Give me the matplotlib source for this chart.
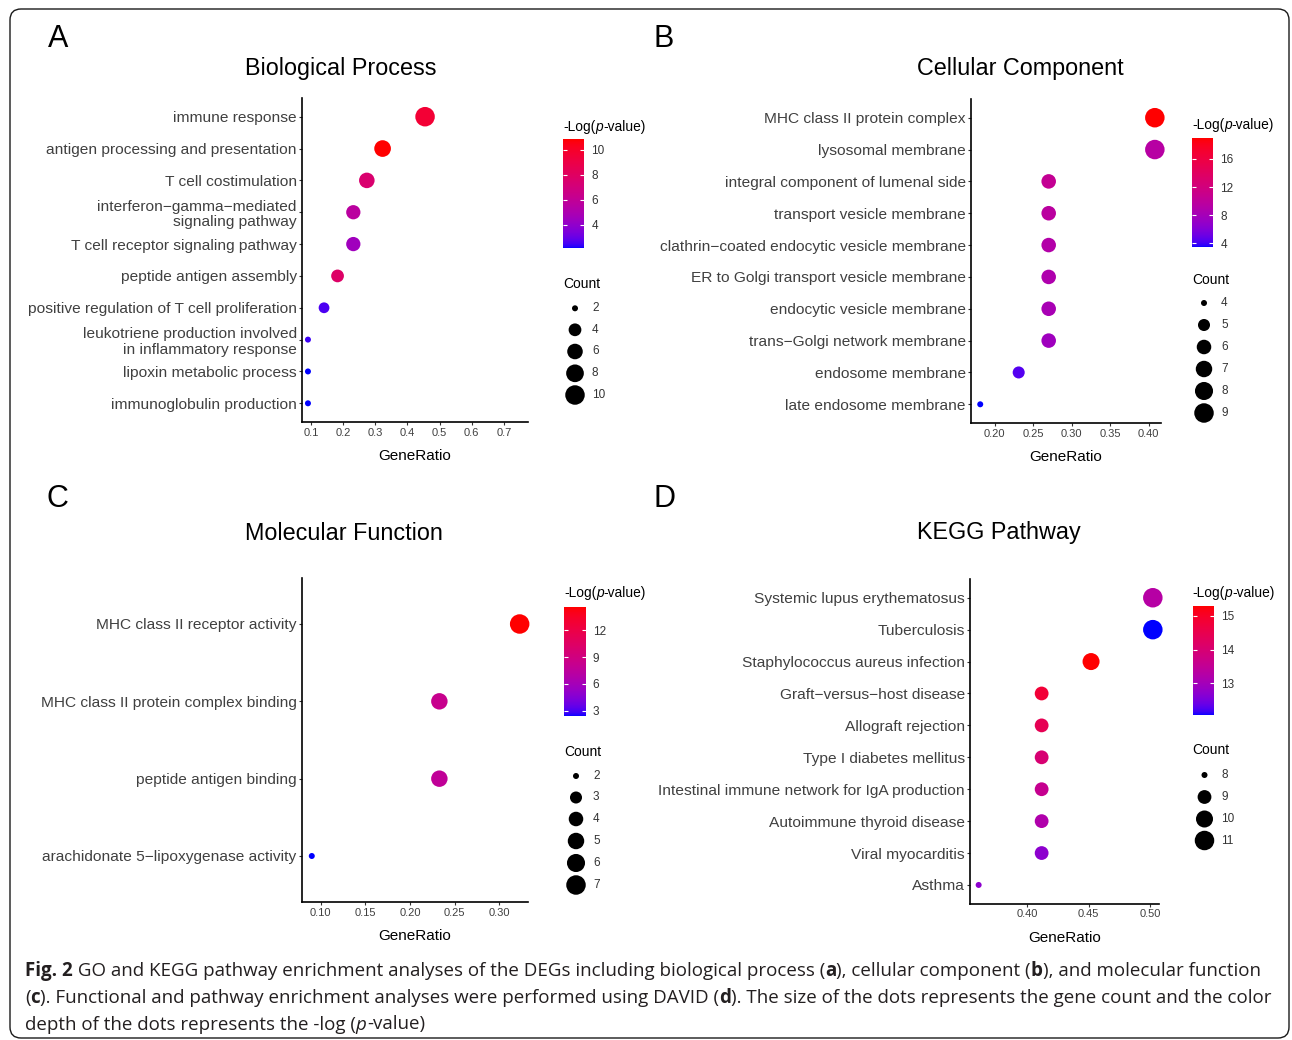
import numpy as np
import matplotlib
matplotlib.use("Agg")
import matplotlib.pyplot as plt
from matplotlib.colors import ListedColormap, Normalize, to_rgb
from matplotlib.cm import ScalarMappable
from matplotlib.patches import FancyBboxPatch

# ---------------- data ----------------
bp_terms = ["immune response", "antigen processing and presentation", "T cell costimulation",
            "interferon\u2212gamma\u2212mediated\nsignaling pathway", "T cell receptor signaling pathway",
            "peptide antigen assembly", "positive regulation of T cell proliferation",
            "leukotriene production involved\nin inflammatory response", "lipoxin metabolic process",
            "immunoglobulin production"]
bp_ratio = [0.455, 0.323, 0.274, 0.232, 0.232, 0.183, 0.141, 0.091, 0.091, 0.091]
bp_count = [10, 7, 6, 5, 5, 4, 3, 2, 2, 2]
bp_logp = [9.6, 10.85, 7.5, 5.6, 4.5, 7.8, 2.55, 2.4, 2.1, 2.1]

cc_terms = ["MHC class II protein complex", "lysosomal membrane", "integral component of lumenal side",
            "transport vesicle membrane", "clathrin\u2212coated endocytic vesicle membrane",
            "ER to Golgi transport vesicle membrane", "endocytic vesicle membrane",
            "trans\u2212Golgi network membrane", "endosome membrane", "late endosome membrane"]
cc_ratio = [0.408, 0.408, 0.270, 0.270, 0.270, 0.270, 0.270, 0.270, 0.231, 0.181]
cc_count = [9, 9, 6, 6, 6, 6, 6, 6, 5, 4]
cc_logp = [18.95, 9.4, 10.5, 9.7, 9.1, 8.7, 8.2, 7.6, 4.4, 3.4]

mf_terms = ["MHC class II receptor activity", "MHC class II protein complex binding",
            "peptide antigen binding", "arachidonate 5\u2212lipoxygenase activity"]
mf_ratio = [0.323, 0.233, 0.233, 0.090]
mf_count = [7, 5, 5, 2]
mf_logp = [14.6, 8.3, 7.7, 2.4]

kegg_terms = ["Systemic lupus erythematosus", "Tuberculosis", "Staphylococcus aureus infection",
              "Graft\u2212versus\u2212host disease", "Allograft rejection", "Type I diabetes mellitus",
              "Intestinal immune network for IgA production", "Autoimmune thyroid disease",
              "Viral myocarditis", "Asthma"]
kegg_ratio = [0.502, 0.502, 0.452, 0.412, 0.412, 0.412, 0.412, 0.412, 0.412, 0.361]
kegg_count = [11, 11, 10, 9, 9, 9, 9, 9, 9, 8]
kegg_logp = [13.29, 12.06, 15.29, 14.81, 14.43, 14.0, 13.58, 13.19, 12.71, 12.71]

bp_xticks = [0.1, 0.2, 0.3, 0.4, 0.5, 0.6, 0.7]
bp_xlabels = ["0.1", "0.2", "0.3", "0.4", "0.5", "0.6", "0.7"]
cc_xticks = [0.20, 0.25, 0.30, 0.35, 0.40]
cc_xlabels = ["0.20", "0.25", "0.30", "0.35", "0.40"]
mf_xticks = [0.10, 0.15, 0.20, 0.25, 0.30]
mf_xlabels = ["0.10", "0.15", "0.20", "0.25", "0.30"]
kegg_xticks = [0.40, 0.45, 0.50]
kegg_xlabels = ["0.40", "0.45", "0.50"]

bp_cticks = [4, 6, 8, 10]
cc_cticks = [4, 8, 12, 16]
mf_cticks = [3, 6, 9, 12]
kegg_cticks = [13, 14, 15]

bp_size_breaks = [2, 4, 6, 8, 10]
cc_size_breaks = [4, 5, 6, 7, 8, 9]
mf_size_breaks = [2, 3, 4, 5, 6, 7]
kegg_size_breaks = [8, 9, 10, 11]

titles = ["Biological Process", "Cellular Component", "Molecular Function", "KEGG Pathway"]
letters = ["A", "B", "C", "D"]

# ---------------- style ----------------
W, H, DPI = 1292, 1040, 100
FONT = "Liberation Sans"
plt.rcParams["font.family"] = [FONT, "DejaVu Sans"]
TICK_COLOR = "#404040"
LOW, HIGH = "#0000FF", "#FF0000"


def _srgb_to_lab(c):
    c = np.asarray(c, float)
    lin = np.where(c <= 0.04045, c / 12.92, ((c + 0.055) / 1.055) ** 2.4)
    M = np.array([[0.4124564, 0.3575761, 0.1804375],
                  [0.2126729, 0.7151522, 0.0721750],
                  [0.0193339, 0.1191920, 0.9503041]])
    X, Y, Z = M @ lin
    X /= 0.95047
    Z /= 1.08883
    f = lambda t: np.where(t > (6 / 29) ** 3, np.cbrt(t), t / (3 * (6 / 29) ** 2) + 4 / 29)
    fx, fy, fz = f(X), f(Y), f(Z)
    return np.array([116 * fy - 16, 500 * (fx - fy), 200 * (fy - fz)])


def _lab_to_srgb(L, a, b):
    fy = (L + 16) / 116
    fx = fy + a / 500
    fz = fy - b / 200
    finv = lambda t: np.where(t > 6 / 29, t ** 3, 3 * (6 / 29) ** 2 * (t - 4 / 29))
    X, Y, Z = 0.95047 * finv(fx), finv(fy), 1.08883 * finv(fz)
    r = 3.2404542 * X - 1.5371385 * Y - 0.4985314 * Z
    g = -0.9692660 * X + 1.8760108 * Y + 0.0415560 * Z
    bb = 0.0556434 * X - 0.2040259 * Y + 1.0572252 * Z
    rgb = np.clip(np.stack([r, g, bb], -1), 0, 1)
    return np.where(rgb <= 0.0031308, 12.92 * rgb, 1.055 * rgb ** (1 / 2.4) - 0.055)


lab_lo, lab_hi = _srgb_to_lab(to_rgb(LOW)), _srgb_to_lab(to_rgb(HIGH))
tt = np.linspace(0, 1, 256)
labs = lab_lo[None, :] * (1 - tt[:, None]) + lab_hi[None, :] * tt[:, None]
cmap = ListedColormap(np.clip(_lab_to_srgb(labs[:, 0], labs[:, 1], labs[:, 2]), 0, 1))

DMIN, DMAX = 6.0, 19.5  # dot diameter range (px)


def size_of(count, cmin, cmax):
    c = np.asarray(count, float)
    d = DMIN + (DMAX - DMIN) * np.sqrt((c - cmin) / (cmax - cmin))
    return (d * 72.0 / DPI) ** 2


fig = plt.figure(figsize=(W / DPI, H / DPI), dpi=DPI)


def px_axes(l, t, r, b):
    return fig.add_axes([l / W, 1 - b / H, (r - l) / W, (b - t) / H])


def draw_panel(box, terms, ratio, count, logp, xlim, xticks, xlabels):
    ax = px_axes(*box)
    n = len(terms)
    y = np.arange(n)
    ax.scatter(ratio, y, s=size_of(count, min(count), max(count)), c=logp, cmap=cmap,
               vmin=min(logp), vmax=max(logp), linewidths=0, zorder=3, clip_on=False)
    ax.set_ylim(n - 0.4, -0.6)
    ax.set_xlim(*xlim)
    ax.set_yticks(y)
    ax.set_yticklabels(terms, fontsize=11.15, color=TICK_COLOR, linespacing=1.15)
    ax.set_xticks(xticks)
    ax.set_xticklabels(xlabels, fontsize=8.0, color=TICK_COLOR)
    for s in ("top", "right"):
        ax.spines[s].set_visible(False)
    for s in ("left", "bottom"):
        ax.spines[s].set_linewidth(1.2)
        ax.spines[s].set_color("black")
    ax.tick_params(length=2.2, width=0.8, color="#333333", pad=1.5)
    ax.set_xlabel("GeneRatio", fontsize=11, color="black", labelpad=8.5)
    ax.set_facecolor("none")
    return ax


def rich(x, y, parts, size, family, color="black", va="center"):
    r = fig.canvas.get_renderer()
    for txt, wt, st in parts:
        t = fig.text(x / W, 1 - y / H, txt, fontsize=size, fontweight=wt, fontstyle=st,
                     family=family, color=color, ha="left", va=va)
        x += t.get_window_extent(r).width
    return x


def legend(vmin, vmax, cticks, breaks, cmin, cmax, lx, title_y, bar, count_y, entry_ys):
    rich(lx, title_y, [("-Log(", "normal", "normal"), ("p", "normal", "italic"),
                       ("-value)", "normal", "normal")], 9.9, [FONT, "DejaVu Sans"])
    cax = px_axes(*bar)
    cb = fig.colorbar(ScalarMappable(norm=Normalize(vmin, vmax), cmap=cmap), cax=cax)
    cb.outline.set_visible(False)
    cb.set_ticks(cticks)
    cb.set_ticklabels([str(v) for v in cticks])
    cax.tick_params(direction="in", length=3.0, width=0.8, color="white", labelsize=8.5,
                    labelcolor="#333333", pad=5, left=True, right=True, labelleft=False)
    fig.text(lx / W, 1 - count_y / H, "Count", fontsize=10, ha="left", va="center")
    xs = np.full(len(breaks), lx + 12.0)
    ov.scatter(xs, entry_ys, s=size_of(breaks, cmin, cmax), c="black", linewidths=0)
    for v, yy in zip(breaks, entry_ys):
        ov.text(lx + 29, yy, str(v), fontsize=8.5, color="#333333", ha="left", va="center")


# overlay (pixel coordinates) for frame and legend keys
ov = fig.add_axes([0, 0, 1, 1])
ov.set_xlim(0, W)
ov.set_ylim(H, 0)
ov.axis("off")
ov.patch.set_visible(False)
ov.add_patch(FancyBboxPatch((10, 9), 1279, 1029, boxstyle="round,pad=0,rounding_size=11",
                            fill=False, ec="#1a1a1a", lw=1.0))

axA = draw_panel((302, 97.6, 528, 422.4), bp_terms, bp_ratio, bp_count, bp_logp,
                 (0.0725, 0.775), bp_xticks, bp_xlabels)
axB = draw_panel((971, 98.6, 1161, 423.4), cc_terms, cc_ratio, cc_count, cc_logp,
                 (0.169, 0.416), cc_xticks, cc_xlabels)
axC = draw_panel((301.7, 577.6, 527.7, 902.4), mf_terms, mf_ratio, mf_count, mf_logp,
                 (0.0787, 0.332), mf_xticks, mf_xlabels)
axD = draw_panel((970, 578.6, 1159, 904.1), kegg_terms, kegg_ratio, kegg_count, kegg_logp,
                 (0.354, 0.507), kegg_xticks, kegg_xlabels)

# titles and panel letters
for (tx, ty), t in zip([(340.5, 69), (1020.5, 69), (343.5, 533), (998.5, 533)], titles):
    fig.text(tx / W, 1 - ty / H, t, fontsize=16.8, ha="center", va="center")
for (lx_, ly_), t in zip([(48, 39), (654, 39), (47, 499), (654, 499)], letters):
    fig.text(lx_ / W, 1 - ly_ / H, t, fontsize=22, ha="left", va="center")

# legends
legend(min(bp_logp), max(bp_logp), bp_cticks, bp_size_breaks, min(bp_count), max(bp_count),
       563, 126.5, (563, 139.3, 584.3, 248.3), 284, [308.3, 329.8, 351.5, 373.3, 395])
legend(min(cc_logp), max(cc_logp), cc_cticks, cc_size_breaks, min(cc_count), max(cc_count),
       1192, 125.5, (1191.7, 138.3, 1213.3, 247.3), 280, [303, 325, 347, 369, 391, 413])
legend(min(mf_logp), max(mf_logp), mf_cticks, mf_size_breaks, min(mf_count), max(mf_count),
       564, 593.5, (564, 607.3, 585.7, 716), 751.5, [776, 797.5, 819, 841, 863, 885])
legend(min(kegg_logp), max(kegg_logp), kegg_cticks, kegg_size_breaks, min(kegg_count),
       max(kegg_count), 1192.5, 593, (1192.7, 606, 1214.3, 715), 750.5, [775, 797, 819, 840.5])

# caption
cap_lines = [
    [("Fig. 2", "bold", "normal"),
     (" GO and KEGG pathway enrichment analyses of the DEGs including biological process (", "normal", "normal"),
     ("a", "bold", "normal"), ("), cellular component (", "normal", "normal"), ("b", "bold", "normal"),
     ("), and molecular function", "normal", "normal")],
    [("(", "normal", "normal"), ("c", "bold", "normal"),
     ("). Functional and pathway enrichment analyses were performed using DAVID (", "normal", "normal"),
     ("d", "bold", "normal"),
     ("). The size of the dots represents the gene count and the color", "normal", "normal")],
    [("depth of the dots represents the -log (", "normal", "normal"), ("p", "normal", "italic"),
     ("-value)", "normal", "normal")],
]
cap_family = ["Open Sans", "DejaVu Sans"]
r = fig.canvas.get_renderer()
tmp = [fig.text(0, 0, s, fontsize=10, fontweight=w, family=cap_family) for s, w, _ in cap_lines[0]]
wid = sum(t.get_window_extent(r).width for t in tmp)
for t in tmp:
    t.remove()
cap_size = 10 * (1259 - 25) / wid
for yy, parts in zip([976, 1003, 1029.5], cap_lines):
    rich(25, yy, parts, cap_size, cap_family, color="#231F20", va="baseline")

fig.savefig("out.png", dpi=DPI)
